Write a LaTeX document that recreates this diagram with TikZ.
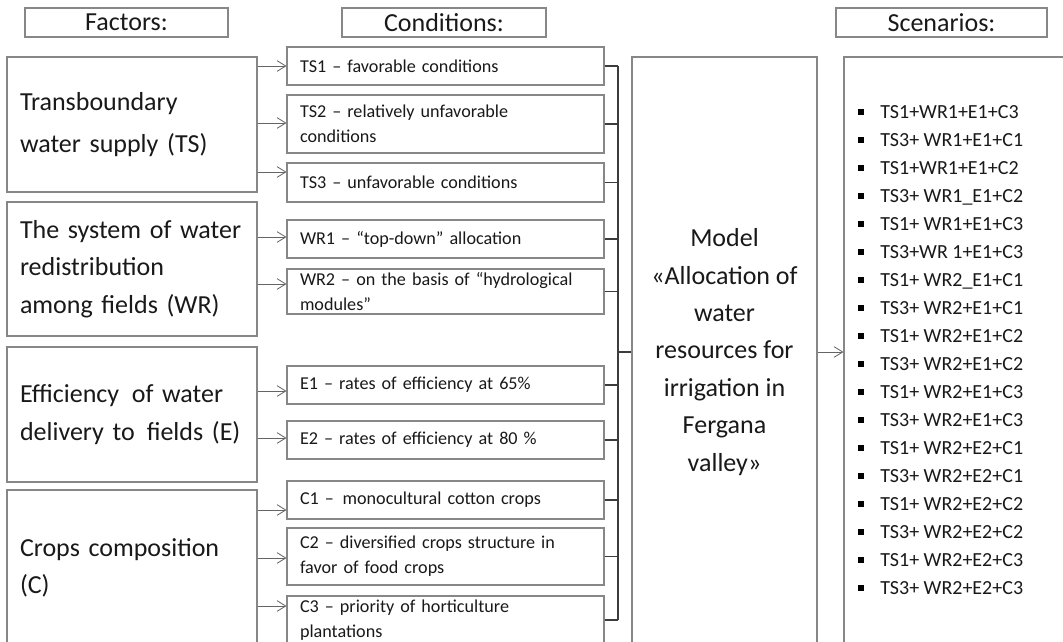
\documentclass[tikz,border=0pt]{standalone}
\usepackage{fontspec}
\setmainfont{Carlito}
\usetikzlibrary{arrows.meta}
\definecolor{boxgray}{RGB}{135,135,135}
\definecolor{arrgray}{RGB}{100,100,100}
\definecolor{brgray}{RGB}{60,60,60}
\definecolor{txt}{RGB}{25,25,25}
\begin{document}
\begin{tikzpicture}[x=0.75pt,y=-0.75pt,
  box/.style={draw=boxgray, line width=0.8pt, rectangle, inner sep=0pt, text=txt},
  fac/.style={box, minimum width=187.5pt, inner xsep=9.75pt, text width=168pt, align=left,
    font=\fontsize{19.5pt}{28pt}\selectfont},
  cond/.style={box, minimum width=237.75pt, inner xsep=9.75pt, text width=218.25pt, align=left,
    font=\fontsize{13.6pt}{18.75pt}\selectfont},
  hdr/.style={box, minimum height=21.75pt, font=\fontsize{19.5pt}{23pt}\selectfont},
  arr/.style={draw=arrgray, line width=0.6pt, -{Straight Barb[length=6.5pt,width=8pt]}},
  br/.style={draw=brgray, line width=0.8pt},
  bul/.style={fill=black, minimum size=4pt, inner sep=0pt},
  item/.style={anchor=base west, inner sep=0pt, text=txt, font=\fontsize{15pt}{18pt}\selectfont}]
\useasboundingbox (0,0) rectangle (1063,642);
\clip (0,0) rectangle (1063,642);
\fill[white] (0,0) rectangle (1063,642);

% headers
\node[hdr, minimum width=152.25pt] (hfac) at (126.5,22.5) {Factors:};
\node[hdr, minimum width=153pt] (hcon) at (444,22.5) {Conditions:};
\node[hdr, minimum width=158.25pt] (hsce) at (941.5,22.5) {Scenarios:};

% factors
\node[fac, minimum height=101.25pt, font=\fontsize{19.5pt}{31pt}\selectfont] (ts) at (132,124.5)
  {\mbox{Transboundary}\\\mbox{water supply (TS)}};
\node[fac, minimum height=100.5pt] (wr) at (132,269)
  {\mbox{The system of water}\\\mbox{redistribution}\\\mbox{among fields (WR)}};
\node[fac, minimum height=101.25pt] (ef) at (132,414.5)
  {\mbox{Efficiency \hspace{3pt}of water}\\\mbox{delivery to \hspace{2.5pt}fields (E)}};
\node[fac, minimum height=117pt] (cc) at (132,568)
  {\mbox{Crops composition}\\(C)};

% conditions
\node[cond, minimum height=28.5pt] (ts1) at (445.5,66) {TS1 – favorable conditions};
\node[cond, minimum height=43.5pt] (ts2) at (445.5,124) {TS2 – relatively unfavorable\\conditions};
\node[cond, minimum height=29.25pt] (ts3) at (445.5,182.5) {TS3 – unfavorable conditions};
\node[cond, minimum height=28.5pt] (wr1) at (445.5,239) {WR1 – “top-down” allocation};
\node[cond, minimum height=33.75pt] (wr2) at (445.5,291.5) {WR2 – on the basis of “hydrological\\modules”};
\node[cond, minimum height=28.5pt] (e1) at (445.5,385) {E1 – rates of efficiency at 65\%};
\node[cond, minimum height=28.5pt] (e2) at (445.5,440) {E2 – rates of efficiency at 80 \%};
\node[cond, minimum height=28.5pt] (c1) at (445.5,500) {C1 – \hspace{2pt}monocultural cotton crops};
\node[cond, minimum height=42.75pt] (c2) at (445.5,556.5) {C2 – diversified crops structure in\\favor of food crops};
\node[cond, minimum height=36pt] (c3) at (445.5,620) {C3 – priority of horticulture\\plantations};

% arrows factor -> condition
\draw[arr] (ts.east |- 0,66)  -- (ts1.west |- 0,66);
\draw[arr] (ts.east |- 0,123) -- (ts2.west |- 0,123);
\draw[arr] (ts.east |- 0,172) -- (ts3.west |- 0,172);
\draw[arr] (wr.east |- 0,237) -- (wr1.west |- 0,237);
\draw[arr] (wr.east |- 0,284) -- (wr2.west |- 0,284);
\draw[arr] (ef.east |- 0,391) -- (e1.west |- 0,391);
\draw[arr] (ef.east |- 0,438) -- (e2.west |- 0,438);
\draw[arr] (cc.east |- 0,510) -- (c1.west |- 0,510);
\draw[arr] (cc.east |- 0,558) -- (c2.west |- 0,558);
\draw[arr] (cc.east |- 0,606) -- (c3.west |- 0,606);

% model
\node[box, minimum width=138.75pt, minimum height=442.5pt] (model) at (724.5,352) {};
\node[text=txt, align=center, font=\fontsize{19.5pt}{28.1pt}\selectfont] (mtext) at (724.5,352)
  {Model\\«Allocation of\\water\\resources for\\irrigation in\\Fergana\\valley»};

% bracket
\coordinate (bx) at (618,0);
\foreach \n in {ts1,ts2,ts3,wr1,wr2,e1,e2,c1,c2,c3}
  \draw[br] (\n.east) -- (\n.east -| bx);
\draw[br] (ts1.east -| bx) -- (c3.east -| bx);
\draw[br] (model.west -| bx) -- (model.west);

% scenarios
\node[box, minimum width=173.25pt, minimum height=441pt] (scen) at (959.5,351) {};
\draw[arr] (model.east) -- (model.east -| scen.west);

\foreach \t [count=\i] in {TS1+WR1+E1+C3, TS3+ WR1+E1+C1, TS1+WR1+E1+C2, TS3+ WR1\_E1+C2,
  TS1+ WR1+E1+C3, TS3+WR 1+E1+C3, TS1+ WR2\_E1+C1, TS3+ WR2+E1+C1, TS1+ WR2+E1+C2,
  TS3+ WR2+E1+C2, TS1+ WR2+E1+C3, TS3+ WR2+E1+C3, TS1+ WR2+E2+C1, TS3+ WR2+E2+C1,
  TS1+ WR2+E2+C2, TS3+ WR2+E2+C2, TS1+ WR2+E2+C3, TS3+ WR2+E2+C3} {
  \pgfmathsetmacro\yy{112+28*(\i-1)}
  \node[bul] (b\i) at (861,\yy) {};
  \node[item] (s\i) at (880,\yy+6.5) {\t};
}
\end{tikzpicture}
\end{document}
